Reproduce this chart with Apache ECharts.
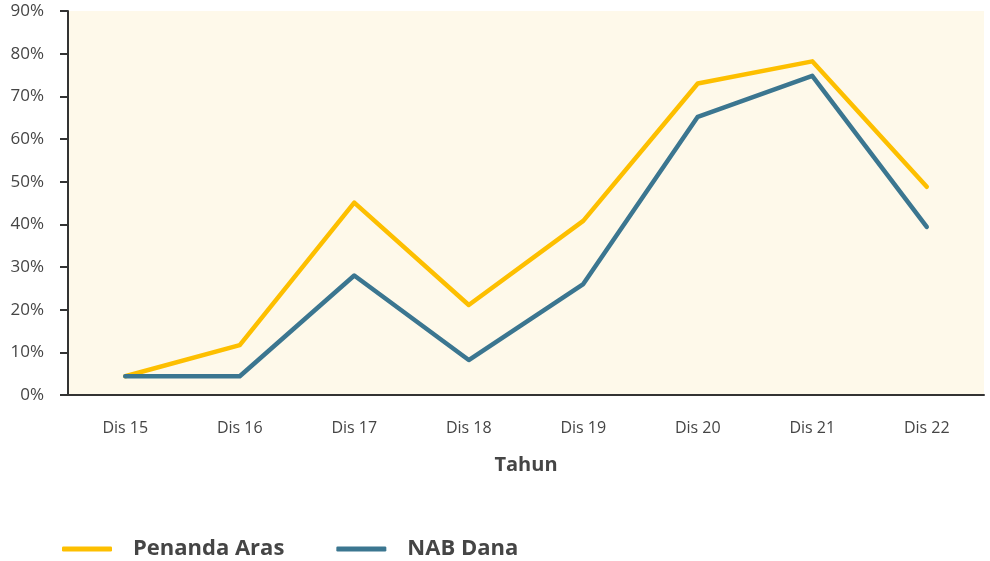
<!DOCTYPE html>
<html>
<head>
<meta charset="utf-8">
<script src="https://cdn.jsdelivr.net/npm/echarts@6/dist/echarts.min.js"></script>
<style>
  html, body { margin: 0; padding: 0; background: #fff; }
  #main { width: 990px; height: 561px; }
</style>
</head>
<body>
<div id="main"></div>
<script>
// data (percent)
var categories = ['Dis 15', 'Dis 16', 'Dis 17', 'Dis 18', 'Dis 19', 'Dis 20', 'Dis 21', 'Dis 22'];
var penandaAras = [4.4, 11.7, 45.1, 21.1, 40.8, 73.0, 78.2, 48.8];
var nabDana = [4.4, 4.4, 28.0, 8.2, 26.0, 65.2, 74.8, 39.4];
var seriesNames = ['Penanda Aras', 'NAB Dana'];

var font = '"Open Sans", "Noto Sans", sans-serif';
var textColor = '#454545';
var axisColor = '#333';

var myChart = echarts.init(document.getElementById('main'));
var option = {
    animation: false,
    grid: {
        left: 68, right: 6, top: 11, bottom: 166,
        show: true,
        backgroundColor: '#fef9ea',
        borderWidth: 0
    },
    legend: {
        data: seriesNames,
        left: 57,
        top: 533,
        itemWidth: 50,
        itemHeight: 5,
        itemGap: 52,
        icon: 'roundRect',
        textStyle: {
            fontFamily: font,
            fontSize: 22,
            fontWeight: 'bold',
            color: textColor,
            padding: [0, 0, 0, 16]
        }
    },
    xAxis: {
        type: 'category',
        data: categories,
        boundaryGap: true,
        name: 'Tahun',
        nameLocation: 'middle',
        nameGap: 60,
        nameTextStyle: { fontFamily: font, fontSize: 20, fontWeight: 'bold', color: textColor },
        axisLine: { lineStyle: { color: axisColor, width: 2 } },
        axisTick: { length: 9, lineStyle: { color: axisColor, width: 2 } },
        axisLabel: { margin: 25, fontFamily: font, fontSize: 16, color: textColor }
    },
    yAxis: {
        type: 'value',
        min: 0,
        max: 90,
        interval: 10,
        splitLine: { show: false },
        axisLine: { show: true, lineStyle: { color: axisColor, width: 2 } },
        axisTick: { show: true, length: 8, lineStyle: { color: axisColor, width: 2 } },
        axisLabel: {
            margin: 24, fontFamily: font, fontSize: 17, color: textColor,
            formatter: '{value}%'
        }
    },
    series: [
        {
            name: seriesNames[0],
            type: 'line',
            data: penandaAras,
            symbol: 'none',
            color: '#fdbf00',
            lineStyle: { width: 4.5, color: '#fdbf00', cap: 'round', join: 'round' },
            z: 2
        },
        {
            name: seriesNames[1],
            type: 'line',
            data: nabDana,
            symbol: 'none',
            color: '#3b7690',
            lineStyle: { width: 4.5, color: '#3b7690', cap: 'round', join: 'round' },
            z: 3
        }
    ]
};
myChart.setOption(option);
</script>
</body>
</html>
